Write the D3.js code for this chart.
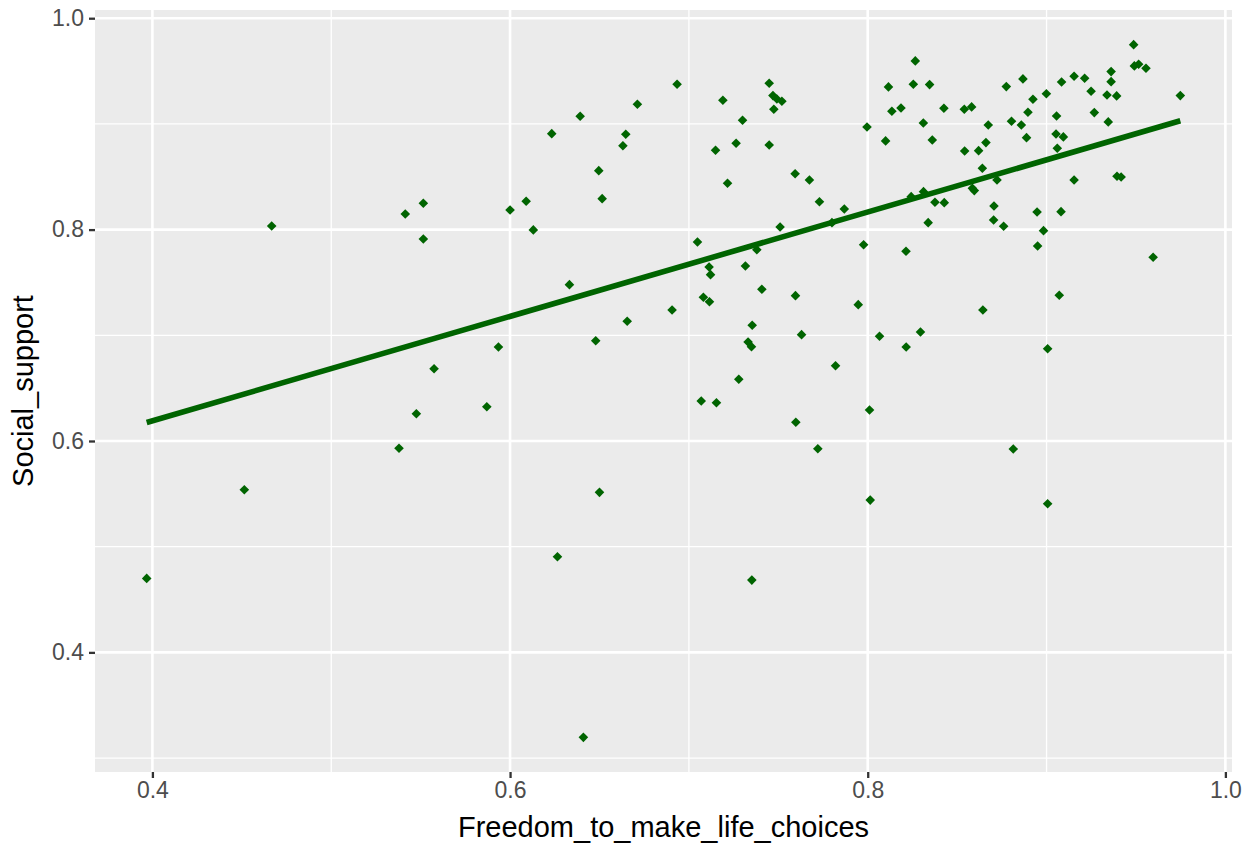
<!DOCTYPE html>
<html lang="en">
  <head>
    <meta charset="utf-8">
    <title>Social support vs freedom</title>
    <script src="https://d3js.org/d3.v7.min.js"></script>
    <style>
      body { margin: 0; background: #fff; }
      text { font-family: "Liberation Sans", Arial, sans-serif; }
    </style>
  </head>
  <body>
    <div id="chart"></div>
    <script>

// values
var freedom = [
  0.4667, 0.5414, 0.5515, 0.5515, 0.6000, 0.6090, 0.6130, 0.6233, 0.6392, 0.6496,
  0.6515, 0.6631, 0.6647, 0.6712, 0.6934, 0.7048, 0.7113, 0.7149, 0.7190, 0.7216,
  0.7264, 0.7300, 0.7316, 0.7380, 0.7449, 0.7449, 0.7470, 0.7492, 0.7520, 0.7475,
  0.7510, 0.7594, 0.7674, 0.7730, 0.7869, 0.7800, 0.7977, 0.7996, 0.8100, 0.8116,
  0.8135, 0.8186, 0.8266, 0.8255, 0.8346, 0.8311, 0.8361, 0.8426, 0.8540, 0.8581,
  0.8542, 0.8620, 0.8661, 0.8674, 0.8641, 0.8723, 0.8775, 0.8868, 0.8804, 0.8859,
  0.8888, 0.8896, 0.8924, 0.8999, 0.9084, 0.9056, 0.9053, 0.9094, 0.9060, 0.9154,
  0.9213, 0.9249, 0.9267, 0.9338, 0.9392, 0.9361, 0.9361, 0.9345, 0.9487, 0.9491,
  0.9515, 0.9556, 0.9748, 0.9154, 0.9394, 0.9417, 0.8243, 0.8312, 0.8376, 0.8428,
  0.8338, 0.8585, 0.8596, 0.8706, 0.8704, 0.8760, 0.8947, 0.9081, 0.8983, 0.8950,
  0.8214, 0.9596, 0.4514, 0.5379, 0.5476, 0.5575, 0.5870, 0.6332, 0.5935, 0.6479,
  0.6655, 0.6906, 0.6500, 0.7121, 0.7081, 0.7115, 0.7408, 0.7596, 0.7947, 0.7354,
  0.7630, 0.7331, 0.7350, 0.7820, 0.7279, 0.7069, 0.7154, 0.7598, 0.7721, 0.8010,
  0.8014, 0.8066, 0.8215, 0.8295, 0.8644, 0.9071, 0.9006, 0.8814, 0.9006, 0.3968,
  0.6265, 0.7352, 0.6410
];

var socialSupport = [
  0.8034, 0.8148, 0.8249, 0.7911, 0.8186, 0.8268, 0.7997, 0.8908, 0.9073, 0.8558,
  0.8293, 0.8794, 0.8902, 0.9186, 0.9375, 0.7883, 0.7646, 0.8751, 0.9224, 0.8439,
  0.8817, 0.9035, 0.7656, 0.7810, 0.9385, 0.8801, 0.9268, 0.9236, 0.9215, 0.9139,
  0.8025, 0.8529, 0.8470, 0.8264, 0.8195, 0.8066, 0.7857, 0.8971, 0.8839, 0.9350,
  0.9120, 0.9151, 0.9596, 0.9375, 0.9372, 0.9009, 0.8848, 0.9148, 0.9139, 0.9161,
  0.8744, 0.8747, 0.8823, 0.8990, 0.8580, 0.8470, 0.9353, 0.9426, 0.9025, 0.8990,
  0.8870, 0.9110, 0.9233, 0.9286, 0.9397, 0.9075, 0.8905, 0.8877, 0.8770, 0.9451,
  0.9432, 0.9309, 0.9107, 0.9274, 0.9265, 0.9495, 0.9400, 0.9019, 0.9750, 0.9549,
  0.9565, 0.9527, 0.9268, 0.8470, 0.8505, 0.8498, 0.8312, 0.8359, 0.8259, 0.8255,
  0.8066, 0.8391, 0.8369, 0.8224, 0.8091, 0.8032, 0.8167, 0.8170, 0.7990, 0.7845,
  0.7795, 0.7738, 0.5539, 0.5931, 0.6258, 0.6684, 0.6324, 0.7479, 0.6889, 0.6949,
  0.7133, 0.7240, 0.5514, 0.7574, 0.7360, 0.7318, 0.7435, 0.7375, 0.7290, 0.7095,
  0.7006, 0.6937, 0.6892, 0.6712, 0.6584, 0.6378, 0.6362, 0.6177, 0.5927, 0.6293,
  0.5441, 0.6991, 0.6889, 0.7031, 0.7240, 0.7379, 0.6873, 0.5924, 0.5406, 0.4700,
  0.4905, 0.4684, 0.3196
];

var xTicks = [0.4, 0.6, 0.8, 1.0];
var yTicks = [0.4, 0.6, 0.8, 1.0];
var xMinor = [0.5, 0.7, 0.9];
var yMinor = [0.3, 0.5, 0.7, 0.9];

var xTitle = "Freedom_to_make_life_choices";
var yTitle = "Social_support";

var data = freedom.map(function(d, i) { return {x: d, y: socialSupport[i]}; });

//constants
var w = 1255;
var h = 849;
var margin = {top: 10, right: 23, bottom: 77, left: 95};
var green = "#006400";

// ggplot style 5% expansion
function expand(ext) {
    var pad = (ext[1] - ext[0]) * 0.05;
    return [ext[0] - pad, ext[1] + pad];
}

var xScale = d3.scaleLinear()
    .domain(expand(d3.extent(data, d => d.x)))
    .range([margin.left, w - margin.right]);

var yScale = d3.scaleLinear()
    .domain(expand(d3.extent(data, d => d.y)))
    .range([h - margin.bottom, margin.top]);

var svg = d3.select("#chart")
    .append("svg")
      .attr("width", w)
      .attr("height", h);

// panel
svg.append("rect")
    .attr("x", margin.left)
    .attr("y", margin.top)
    .attr("width", w - margin.left - margin.right)
    .attr("height", h - margin.top - margin.bottom)
    .attr("fill", "#EBEBEB");

var grid = svg.append("g").attr("id", "grid");

grid.selectAll(".xminor").data(xMinor).enter().append("line")
    .attr("x1", d => xScale(d)).attr("x2", d => xScale(d))
    .attr("y1", margin.top).attr("y2", h - margin.bottom)
    .attr("stroke", "white").attr("stroke-width", 1.3);

grid.selectAll(".yminor").data(yMinor).enter().append("line")
    .attr("y1", d => yScale(d)).attr("y2", d => yScale(d))
    .attr("x1", margin.left).attr("x2", w - margin.right)
    .attr("stroke", "white").attr("stroke-width", 1.3);

grid.selectAll(".xmajor").data(xTicks).enter().append("line")
    .attr("x1", d => xScale(d)).attr("x2", d => xScale(d))
    .attr("y1", margin.top).attr("y2", h - margin.bottom)
    .attr("stroke", "white").attr("stroke-width", 2.6);

grid.selectAll(".ymajor").data(yTicks).enter().append("line")
    .attr("y1", d => yScale(d)).attr("y2", d => yScale(d))
    .attr("x1", margin.left).attr("x2", w - margin.right)
    .attr("stroke", "white").attr("stroke-width", 2.6);

// points (filled diamonds)
var r = 4.8;
svg.append("g")
    .attr("id", "points")
    .selectAll("path")
    .data(data)
    .enter().append("path")
    .attr("d", function(d) {
        var cx = xScale(d.x), cy = yScale(d.y);
        return "M" + cx + "," + (cy - r) + "L" + (cx + r) + "," + cy +
               "L" + cx + "," + (cy + r) + "L" + (cx - r) + "," + cy + "Z";
    })
    .attr("fill", green);

// least squares fit, like geom_smooth(method = "lm")
var mx = d3.mean(data, d => d.x);
var my = d3.mean(data, d => d.y);
var slope = d3.sum(data, d => (d.x - mx) * (d.y - my)) / d3.sum(data, d => (d.x - mx) * (d.x - mx));
var intercept = my - slope * mx;
var xr = d3.extent(data, d => d.x);
var fit = xr.map(x => ({x: x, y: intercept + slope * x}));

svg.append("path")
    .datum(fit)
    .attr("d", d3.line().x(d => xScale(d.x)).y(d => yScale(d.y)))
    .attr("fill", "none")
    .attr("stroke", green)
    .attr("stroke-width", 5.6);

// axes
var xAxis = d3.axisBottom(xScale)
    .tickValues(xTicks)
    .tickFormat(d3.format(".1f"))
    .tickSize(6)
    .tickPadding(4);

var yAxis = d3.axisLeft(yScale)
    .tickValues(yTicks)
    .tickFormat(d3.format(".1f"))
    .tickSize(6)
    .tickPadding(5);

var gx = svg.append("g")
    .attr("id", "xAxis")
    .attr("transform", `translate(0, ${h - margin.bottom})`)
    .call(xAxis);

var gy = svg.append("g")
    .attr("id", "yAxis")
    .attr("transform", `translate(${margin.left}, 0)`)
    .call(yAxis);

[gx, gy].forEach(function(g) {
    g.select(".domain").remove();
    g.selectAll(".tick line").attr("stroke", "#333333").attr("stroke-width", 2.3);
    g.selectAll(".tick text")
        .attr("fill", "#4D4D4D")
        .style("font-size", "23px")
        .style("font-family", "'Liberation Sans', Arial, sans-serif");
});

// titles
svg.append("text")
    .attr("x", (margin.left + w - margin.right) / 2)
    .attr("y", 837)
    .attr("text-anchor", "middle")
    .style("font-size", "29px")
    .attr("fill", "black")
    .text(xTitle);

svg.append("text")
    .attr("transform", `translate(33, ${(margin.top + h - margin.bottom) / 2}) rotate(-90)`)
    .attr("text-anchor", "middle")
    .style("font-size", "29px")
    .attr("fill", "black")
    .text(yTitle);

    </script>
  </body>
</html>
